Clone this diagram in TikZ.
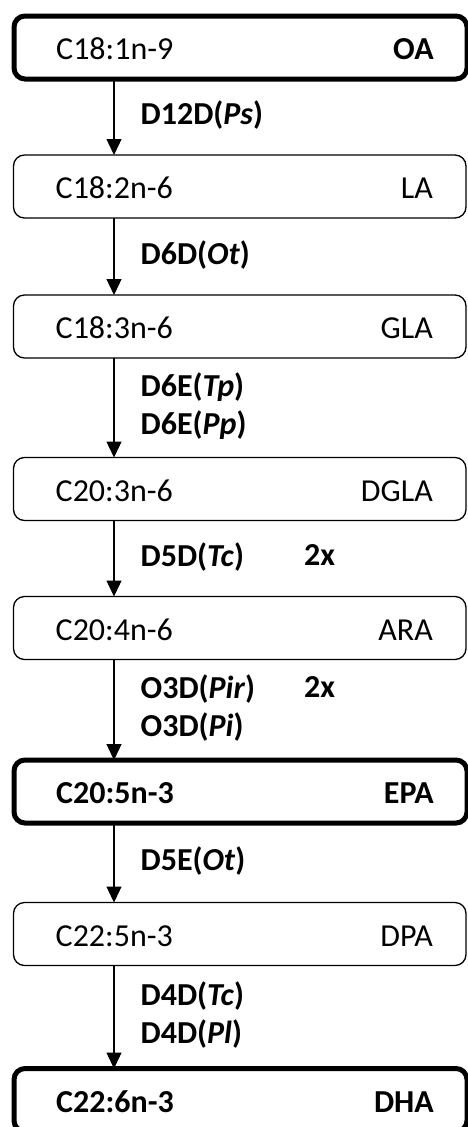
\documentclass[tikz,border=0pt]{standalone}
\usepackage{fontspec}
\setmainfont{Carlito}
\usetikzlibrary{positioning, arrows.meta}
\tikzset{
acid/.style={draw, rounded corners=11pt, minimum width=452.5pt, minimum height=63pt, inner sep=0pt, outer sep=0pt, line width=1.3pt},
keyacid/.style={acid, minimum width=453pt, line width=5pt},
lefttext/.style={anchor=base west, inner sep=0pt, xshift=42pt, yshift=-12pt, font=\fontsize{32}{38}\selectfont},
righttext/.style={anchor=base east, inner sep=0pt, xshift=-33pt, yshift=-12pt, font=\fontsize{32}{38}\selectfont},
enz/.style={inner sep=0pt, align=left, font=\fontsize{32}{38}\selectfont\bfseries},
arr/.style={line width=1.3pt, -{Triangle[width=15pt,length=16pt]}},
}

\begin{document}
\begin{tikzpicture}[x=1pt, y=-1pt]
    \useasboundingbox (0,0) rectangle (467,1127);
    \coordinate (spine) at (114,0);
    \coordinate (twox) at (304,0);

    %boxes
    \node[keyacid] (oa)   at (240.5,47.5)   { };
    \node[acid]    (la)   at (239.75,186.5) { };
    \node[acid]    (gla)  at (239.75,326.5) { };
    \node[acid]    (dgla) at (239.75,489)   { };
    \node[acid]    (ara)  at (239.75,628)   { };
    \node[keyacid] (epa)  at (240.5,791.5)  { };
    \node[acid]    (dpa)  at (239.75,934)   { };
    \node[keyacid] (dha)  at (240.5,1100)   { };

    %texts in the boxes
    \node[lefttext]  (oa1)   at (oa.west)   {C18:1n-9};
    \node[righttext] (oa2)   at (oa.east)   {\textbf{OA}};
    \node[lefttext]  (la1)   at (la.west)   {C18:2n-6};
    \node[righttext] (la2)   at (la.east)   {LA};
    \node[lefttext]  (gla1)  at (gla.west)  {C18:3n-6};
    \node[righttext] (gla2)  at (gla.east)  {GLA};
    \node[lefttext]  (dgla1) at (dgla.west) {C20:3n-6};
    \node[righttext] (dgla2) at (dgla.east) {DGLA};
    \node[lefttext]  (ara1)  at (ara.west)  {C20:4n-6};
    \node[righttext] (ara2)  at (ara.east)  {ARA};
    \node[lefttext]  (epa1)  at (epa.west)  {\textbf{C20:5n-3}};
    \node[righttext] (epa2)  at (epa.east)  {\textbf{EPA}};
    \node[lefttext]  (dpa1)  at (dpa.west)  {C22:5n-3};
    \node[righttext] (dpa2)  at (dpa.east)  {DPA};
    \node[lefttext]  (dha1)  at (dha.west)  {\textbf{C22:6n-3}};
    \node[righttext] (dha2)  at (dha.east)  {\textbf{DHA}};

    %arrows with enzymes
    \draw[arr] (oa.south -| spine) -- node[enz, right=26pt] (d12d) {\strut D12D(\textit{Ps})} (la.north -| spine);
    \draw[arr] (la.south -| spine) -- node[enz, right=26pt] (d6d) {\strut D6D(\textit{Ot})} (gla.north -| spine);
    \draw[arr] (gla.south -| spine) -- node[enz, right=26pt] (d6e) {\strut D6E(\textit{Tp})\\\strut D6E(\textit{Pp})} (dgla.north -| spine);
    \draw[arr] (dgla.south -| spine) -- node[enz, right=26pt] (d5d) {\strut D5D(\textit{Tc})} (ara.north -| spine);
    \draw[arr] (ara.south -| spine) -- node[enz, right=26pt] (o3d) {\strut O3D(\textit{Pir})\\\strut O3D(\textit{Pi})} (epa.north -| spine);
    \draw[arr] (epa.south -| spine) -- node[enz, right=26pt] (d5e) {\strut D5E(\textit{Ot})} (dpa.north -| spine);
    \draw[arr] (dpa.south -| spine) -- node[enz, right=26pt] (d4d) {\strut D4D(\textit{Tc})\\\strut D4D(\textit{Pl})} (dha.north -| spine);

    % 2x marks
    \node[enz, anchor=north west] (twice1) at (d5d.north -| twox) {\strut 2x};
    \node[enz, anchor=north west] (twice2) at (o3d.north -| twox) {\strut 2x};
\end{tikzpicture}
\end{document}
